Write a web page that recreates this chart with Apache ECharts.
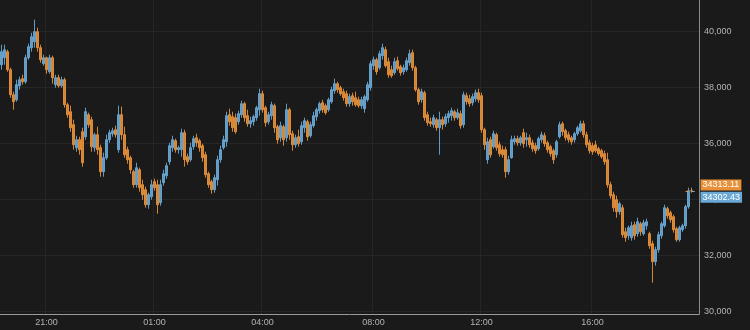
<!DOCTYPE html>
<html>
<head>
<meta charset="utf-8">
<script src="https://cdn.jsdelivr.net/npm/echarts@6/dist/echarts.min.js"></script>
<style>
html,body{margin:0;padding:0;background:#1a1a1a;}
#chart{width:750px;height:330px;}
</style>
</head>
<body>
<div id="chart"></div>
<script>
// ---- data ----
const timeLabels = ['21:00', '01:00', '04:00', '08:00', '12:00', '16:00'];
const labelSlots = [15, 51, 87, 124, 160, 197];
const slotCount = 233;
const yTicks = [30000, 32000, 34000, 36000, 38000, 40000];
const lastLabels = [34313.11, 34302.43];

const opens = [
38821,39071,39286,38643,37750,37571,38071,38321,38214,39071,
39429,39643,40000,39429,38857,39071,38571,39071,38107,38357,
38071,38286,37393,37143,36679,35857,36143,36429,36250,37036,
36857,35857,36321,35857,35000,35500,36143,36357,36500,35786,
37036,36321,35786,35500,35000,34536,35071,34536,34357,33821,
34107,34643,34536,33893,34607,34857,35357,35857,36107,35786,
35786,36393,35536,35429,35893,36214,36107,35929,35607,34929,
34643,34357,34714,35429,35857,36071,37036,36964,36929,36786,
37036,37429,37000,36714,36786,36929,37214,37786,37286,36786,
37000,37357,36607,36214,36607,36214,37214,36357,35964,36250,
36071,36571,36786,36286,36643,36964,37179,37464,37357,37214,
37500,37893,38143,38000,37857,37786,37429,37714,37643,37571,
37357,37250,37571,38000,38786,39000,38714,39143,39357,38929,
38643,38536,38964,38750,38571,38643,38893,39250,38714,37929,
37571,37821,37036,36786,36679,36857,36571,36857,36714,36929,
37000,37143,36929,37071,36679,37714,37607,37464,37607,37821,
37714,36500,35429,36143,35893,36321,35964,35786,35786,35000,
35500,36071,36179,36036,36393,36143,36214,36036,35929,35821,
36143,36286,36036,35893,35750,35607,36250,36714,36464,36321,
36214,36143,36357,36464,36714,36321,36036,35929,35964,35821,
35750,35643,35429,34536,34179,34000,33571,33714,32857,32714,
32643,33107,32786,33143,32786,33071,32786,32429,31786,32214,
32714,33071,33679,33536,33393,32964,32571,32929,33071,33750,
34321
];
const closes = [
39286,39357,38643,37750,37500,38107,38286,38214,39071,39464,
39821,40000,39429,39000,39071,38643,39071,38357,38357,38071,
38286,37393,37036,36571,35964,36143,35786,35321,37143,36679,
35893,36321,35786,35000,35500,36143,36393,36464,36321,37036,
36321,35607,35429,35071,34536,35143,34429,34179,33821,34179,
34536,34429,33821,34536,34929,35214,35929,36143,35786,35857,
36393,35429,35357,35857,36179,36036,35857,35500,34893,34536,
34357,34786,35429,35786,36143,37000,36786,36571,36429,37071,
37429,36929,36714,36821,36964,37286,37786,37214,36750,37036,
37393,36571,36143,36643,36143,37214,36321,35964,36214,36000,
36643,36821,36250,36679,37000,37214,37429,37214,37107,37571,
37929,38143,37929,37786,37643,37429,37679,37500,37393,37357,
37571,37679,38107,38857,39000,38571,39214,39429,38786,38464,
38429,38929,38679,38536,38714,38964,39214,38714,37929,37500,
37857,36929,36750,36714,36929,36571,36857,36679,36964,37071,
37179,36929,37107,36643,37750,37500,37429,37679,37821,37571,
36500,35964,36071,35607,36357,35857,35643,35607,35000,35429,
36143,36179,36036,36214,36000,36214,35964,35821,35750,36179,
36321,36000,35786,35643,35429,36071,36679,36429,36214,36143,
36071,36357,36571,36714,36321,35964,35750,35714,35750,35643,
35536,35357,34536,34143,33714,33571,33857,32750,32643,33000,
33071,32714,33214,32857,33179,33214,32357,31786,32214,32750,
33143,33714,33429,33286,32929,32571,33000,33071,33750,34321,
34313.11
];
const lows = [
38643,38821,38571,37643,37214,37500,37929,38107,38143,39000,
39286,39429,39286,38893,38786,38500,38500,38143,38000,38000,
38000,37286,36929,36429,35786,35714,35607,35179,36143,36571,
35714,35714,35607,34821,34821,35429,36036,36250,36214,35679,
36143,35500,35286,34929,34429,34429,34286,34000,33714,33679,
34000,34321,33500,33786,34500,34750,35250,35714,35679,35643,
35536,35179,35250,35357,35786,35893,35714,35357,34786,34429,
34214,34250,34500,35321,35786,35893,36643,36429,36357,36679,
36929,36786,36607,36571,36643,36821,37000,37107,36607,36679,
36857,36393,36000,36071,35929,36071,36143,35750,35857,35893,
35964,36393,36107,36214,36571,36821,37071,37107,37036,37143,
37429,37786,37821,37714,37536,37321,37321,37357,37321,37286,
37250,37107,37500,37893,38643,38464,38643,39000,38714,38357,
38357,38464,38607,38429,38464,38571,38786,38607,37857,37393,
37464,36821,36643,36607,36571,36464,35607,36500,36607,36750,
36821,36821,36857,36536,36571,37393,37321,37357,37500,37464,
36393,35786,35286,35500,35821,35750,35536,35500,34786,34893,
35464,35964,35929,35929,35857,35893,35857,35714,35643,35750,
36036,35893,35679,35536,35286,35500,36179,36286,36107,36036,
35964,36036,36286,36393,36214,35857,35643,35607,35679,35571,
35464,35250,34429,34036,33571,33357,33464,32643,32500,32571,
32536,32571,32679,32714,32714,32929,32250,31036,31643,32107,
32607,33000,33321,33179,32821,32500,32500,32857,32964,33679,
34250
];
const highs = [
39536,39536,39357,38714,37857,38286,38393,38464,39179,39571,
39964,40429,40143,39536,39179,39107,39179,39143,38464,38464,
38393,38357,37464,37357,36857,36286,36250,36571,37286,37107,
36964,36393,36607,35964,35679,36321,36500,36571,36643,37357,
37321,36607,35893,35571,35071,35321,35143,34714,34464,34250,
34714,34750,34714,34714,35071,35321,36036,36286,36179,35929,
36536,36500,35643,36036,36286,36357,36179,36000,35714,35000,
34714,34893,35571,35929,36286,37143,37250,37143,37071,37179,
37536,37500,37214,36964,37036,37357,37964,37893,37357,37143,
37500,37429,36679,36786,36679,37429,37286,36464,36321,36500,
36786,36929,36857,36786,37143,37286,37500,37571,37429,37643,
38036,38321,38214,38071,37964,37893,37786,37821,37857,37679,
37679,37750,38214,38964,39107,39071,39321,39571,39464,39071,
38786,39071,39107,38821,38821,39071,39357,39357,38786,38000,
37964,37893,37143,36929,37036,36929,37143,36964,37071,37179,
37286,37214,37250,37179,37857,37821,37750,37786,37929,37964,
37821,36571,36214,36250,36464,36393,36071,35929,35893,35571,
36286,36286,36286,36286,36536,36393,36321,36143,36036,36250,
36429,36393,36107,35964,35821,36143,36786,36786,36536,36429,
36286,36429,36643,36821,36821,36429,36143,36036,36107,35893,
35821,35750,35679,34643,34286,34143,33929,33821,33000,33071,
33214,33214,33357,33214,33286,33321,32857,32536,32321,32857,
33214,33821,33750,33607,33464,33036,33071,33143,33821,34429,
34429
];

// ---- build ----
const categories = Array.from({length: slotCount}, (_, i) => String(i));
const candles = opens.map((o, i) => [o, closes[i], lows[i], highs[i]]);
const lastIdx = closes.length - 1;
const endIdx = slotCount - 1;

const UP = '#6aa9d6';
const DOWN = '#e8913a';
const labelColor = '#b3b3b3';
const font = 'Liberation Sans, Arial, Helvetica, sans-serif';
const isLabelSlot = (idx) => labelSlots.indexOf(idx) >= 0;

const chart = echarts.init(document.getElementById('chart'), null, {renderer: 'canvas'});
chart.setOption({
  backgroundColor: '#1a1a1a',
  animation: false,
  grid: {left: 0, right: 51, top: 0, bottom: 16, containLabel: false},
  xAxis: {
    type: 'category',
    data: categories,
    boundaryGap: true,
    axisLine: {show: true, lineStyle: {color: '#9a9a9a', width: 1}},
    axisTick: {show: false},
    axisLabel: {
      interval: (idx) => isLabelSlot(idx),
      formatter: (v, idx) => { const k = labelSlots.indexOf(idx); return k >= 0 ? timeLabels[k] : ''; },
      color: labelColor, fontSize: 9, fontFamily: font, margin: 4
    },
    splitLine: {show: true, interval: (idx) => isLabelSlot(idx), lineStyle: {color: '#262626', width: 1}}
  },
  yAxis: {
    type: 'value',
    position: 'right',
    min: 29918,
    max: 41132,
    scale: true,
    axisLine: {show: true, lineStyle: {color: '#8a8a8a', width: 1}},
    axisTick: {show: false, customValues: yTicks},
    axisLabel: {
      customValues: yTicks,
      color: labelColor, fontSize: 9, fontFamily: font, margin: 5,
      formatter: (v) => v.toLocaleString('en-US')
    },
    splitLine: {show: true, lineStyle: {color: '#262626', width: 1}}
  },
  series: [{
    type: 'candlestick',
    data: candles,
    barWidth: 2,
    clip: false,
    itemStyle: {
      color: UP, color0: DOWN, borderColor: UP, borderColor0: DOWN,
      borderWidth: 1, opacity: 0.9
    },
    markLine: {
      silent: true,
      symbol: ['none', 'none'],
      label: {show: false},
      data: [
        [{coord: [lastIdx - 2, lastLabels[0]], lineStyle: {color: DOWN, type: [3, 3], width: 1}}, {coord: [endIdx, lastLabels[0]]}],
        [{coord: [lastIdx, lastLabels[1]], lineStyle: {color: UP, type: [3, 3], width: 1}}, {coord: [endIdx, lastLabels[1]]}]
      ]
    },
    markPoint: {
      silent: true,
      symbol: 'rect',
      symbolSize: 0,
      data: [
        {coord: [endIdx, lastLabels[0]], value: lastLabels[0],
         label: {show: true, position: 'right', distance: 3, offset: [0, -6], formatter: lastLabels[0].toFixed(2),
                 backgroundColor: DOWN, color: '#ffffff', fontSize: 9, fontFamily: font, padding: [1, 2, 1, 2], lineHeight: 9}},
        {coord: [endIdx, lastLabels[1]], value: lastLabels[1],
         label: {show: true, position: 'right', distance: 3, offset: [0, 6], formatter: lastLabels[1].toFixed(2),
                 backgroundColor: UP, color: '#ffffff', fontSize: 9, fontFamily: font, padding: [1, 2, 1, 2], lineHeight: 9}}
      ]
    }
  }]
});
</script>
</body>
</html>
